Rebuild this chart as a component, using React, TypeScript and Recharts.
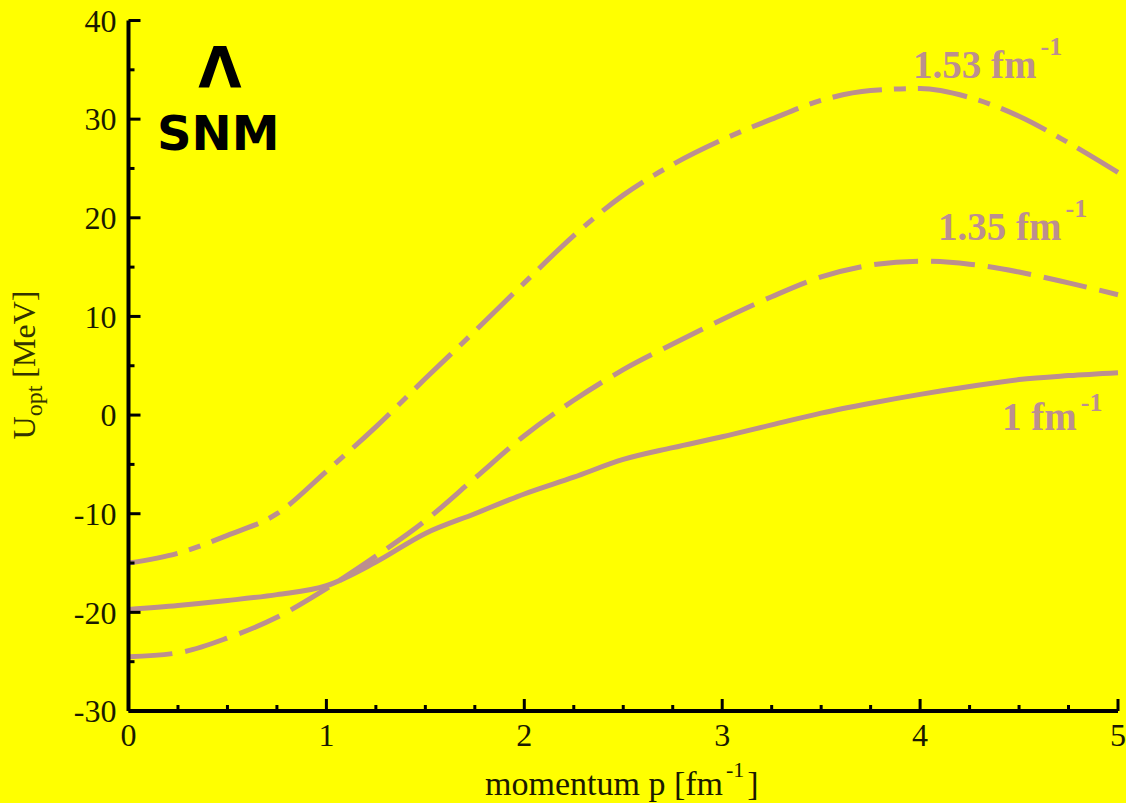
import React from 'react';
import { LineChart, Line, XAxis, YAxis } from 'recharts';

// momentum p [fm^-1]
const momentum = [0, 0.25, 0.5, 0.75, 1, 1.25, 1.5, 1.75, 2, 2.25, 2.5, 2.75, 3, 3.25, 3.5, 3.75, 4, 4.25, 4.5, 4.75, 5];
// U_opt [MeV] at kF = 1 fm^-1 (solid)
const uKf100 = [-19.7, -19.3, -18.8, -18.2, -17.3, -14.9, -12.0, -10.0, -8.0, -6.3, -4.5, -3.3, -2.2, -1.0, 0.2, 1.2, 2.1, 2.9, 3.6, 4.0, 4.3];
// U_opt [MeV] at kF = 1.35 fm^-1 (dashed)
const uKf135 = [-24.5, -24.1, -22.6, -20.5, -17.6, -14.3, -10.7, -6.4, -2.1, 1.5, 4.6, 7.2, 9.7, 12.0, 14.0, 15.2, 15.6, 15.3, 14.5, 13.4, 12.2];
// U_opt [MeV] at kF = 1.53 fm^-1 (dash-dot)
const uKf153 = [-15.0, -14.0, -12.2, -10.0, -5.7, -1.2, 3.7, 8.5, 13.4, 18.2, 22.3, 25.4, 27.9, 30.0, 31.9, 32.9, 33.1, 32.2, 30.3, 27.6, 24.6];

const xTicks = [0, 0.25, 0.5, 0.75, 1, 1.25, 1.5, 1.75, 2, 2.25, 2.5, 2.75, 3, 3.25, 3.5, 3.75, 4, 4.25, 4.5, 4.75, 5];
const xMajor = [0, 1, 2, 3, 4, 5];
const yTicks = [-30, -25, -20, -15, -10, -5, 0, 5, 10, 15, 20, 25, 30, 35, 40];
const yMajor = [-30, -20, -10, 0, 10, 20, 30, 40];

const data = momentum.map((p, i) => ({ p, a: uKf100[i], b: uKf135[i], c: uKf153[i] }));

const LINE = '#BC8F8F';
const INK = '#1a1a00';
const SERIF = "'Liberation Serif', 'Times New Roman', serif";
const MAJOR = 12;
const MINOR = 6;

const BottomTick = (props: any) => {
  const { x, y, payload } = props;
  const v = payload.value;
  const major = xMajor.includes(v);
  return (
    <g>
      <line x1={x} x2={x} y1={y} y2={y - (major ? MAJOR : MINOR)} stroke="#000" strokeWidth={3} />
      {major && (
        <text x={x} y={y + 35} textAnchor="middle" fontFamily={SERIF} fontSize={32} fill={INK}>
          {v}
        </text>
      )}
    </g>
  );
};

const TopTick = (props: any) => {
  const { x, y, payload } = props;
  const major = xMajor.includes(payload.value);
  return <line x1={x} x2={x} y1={y} y2={y + (major ? MAJOR : MINOR)} stroke="#000" strokeWidth={3} />;
};

const LeftTick = (props: any) => {
  const { x, y, payload } = props;
  const v = payload.value;
  const major = yMajor.includes(v);
  return (
    <g>
      <line x1={x} x2={x + (major ? MAJOR : MINOR)} y1={y} y2={y} stroke="#000" strokeWidth={3} />
      {major && (
        <text x={x - 12} y={y} dy="0.35em" textAnchor="end" fontFamily={SERIF} fontSize={32} fill={INK}>
          {v}
        </text>
      )}
    </g>
  );
};

const RightTick = (props: any) => {
  const { x, y, payload } = props;
  const major = yMajor.includes(payload.value);
  return <line x1={x} x2={x - (major ? MAJOR : MINOR)} y1={y} y2={y} stroke="#000" strokeWidth={3} />;
};

const axisLine = { stroke: '#000', strokeWidth: 4 };

export default function App() {
  return (
    <div style={{ position: 'absolute', left: 0, top: 0, width: 1126, height: 803, background: '#FFFF00', overflow: 'hidden' }}>
      <div style={{ position: 'absolute', left: 0, top: 0 }}>
        <LineChart width={1126} height={803} data={data} margin={{ top: 20.5, right: 8, bottom: 32, left: 68.5 }}>
          <XAxis
            dataKey="p"
            type="number"
            domain={[0, 5]}
            ticks={xTicks}
            interval={0}
            tickSize={0}
            tickMargin={0}
            height={60}
            axisLine={axisLine}
            tickLine={false}
            tick={(p: any) => <BottomTick {...p} />}
          />
          <XAxis
            xAxisId="top"
            orientation="top"
            dataKey="p"
            type="number"
            domain={[0, 5]}
            ticks={xTicks}
            interval={0}
            tickSize={0}
            tickMargin={0}
            height={0}
            axisLine={axisLine}
            tickLine={false}
            tick={(p: any) => <TopTick {...p} />}
          />
          <YAxis
            type="number"
            domain={[-30, 40]}
            ticks={yTicks}
            interval={0}
            tickSize={0}
            tickMargin={0}
            width={60}
            axisLine={axisLine}
            tickLine={false}
            tick={(p: any) => <LeftTick {...p} />}
          />
          <YAxis
            yAxisId="right"
            orientation="right"
            type="number"
            domain={[-30, 40]}
            ticks={yTicks}
            interval={0}
            tickSize={0}
            tickMargin={0}
            width={0}
            axisLine={axisLine}
            tickLine={false}
            tick={(p: any) => <RightTick {...p} />}
          />
          <Line dataKey="a" type="monotone" stroke={LINE} strokeWidth={5} dot={false} isAnimationActive={false} />
          <Line dataKey="b" type="monotone" stroke={LINE} strokeWidth={5} strokeDasharray="44 13" dot={false} isAnimationActive={false} />
          <Line dataKey="c" type="monotone" stroke={LINE} strokeWidth={5} strokeDasharray="50 12 12 12" dot={false} isAnimationActive={false} />
        </LineChart>
      </div>
      <svg width={1126} height={803} style={{ position: 'absolute', left: 0, top: 0, pointerEvents: 'none' }}>
        {/* axis titles */}
        <text transform="translate(35,365) rotate(-90)" textAnchor="middle" fontFamily={SERIF} fontSize={32} fill="#333300">
          U<tspan fontSize={24} dy={7}>opt</tspan>
          <tspan dy={-7}> [MeV]</tspan>
        </text>
        <text x={485} y={795} fontFamily={SERIF} fontSize={34} fill={INK}>
          momentum p [fm<tspan fontSize={22} dy={-18} dx={3}>-1</tspan>
          <tspan dy={18} dx={3}>]</tspan>
        </text>
        {/* curve labels */}
        <text x={913} y={78} fontFamily={SERIF} fontWeight="bold" fontSize={39} fill={LINE}>
          1.53 fm<tspan fontSize={26} dy={-23} dx={4}>-1</tspan>
        </text>
        <text x={938} y={240} fontFamily={SERIF} fontWeight="bold" fontSize={39} fill={LINE}>
          1.35 fm<tspan fontSize={26} dy={-23} dx={4}>-1</tspan>
        </text>
        <text x={1002} y={430} fontFamily={SERIF} fontWeight="bold" fontSize={39} fill={LINE}>
          1 fm<tspan fontSize={26} dy={-19} dx={4}>-1</tspan>
        </text>
        {/* panel annotation */}
        <text x={220} y={88} textAnchor="middle" fontFamily="'DejaVu Sans', sans-serif" fontWeight="bold" fontSize={56} fill="#000">
          Λ
        </text>
        <text x={157} y={150} fontFamily="'DejaVu Sans', sans-serif" fontWeight="bold" fontSize={48} fill="#000">
          SNM
        </text>
      </svg>
    </div>
  );
}
